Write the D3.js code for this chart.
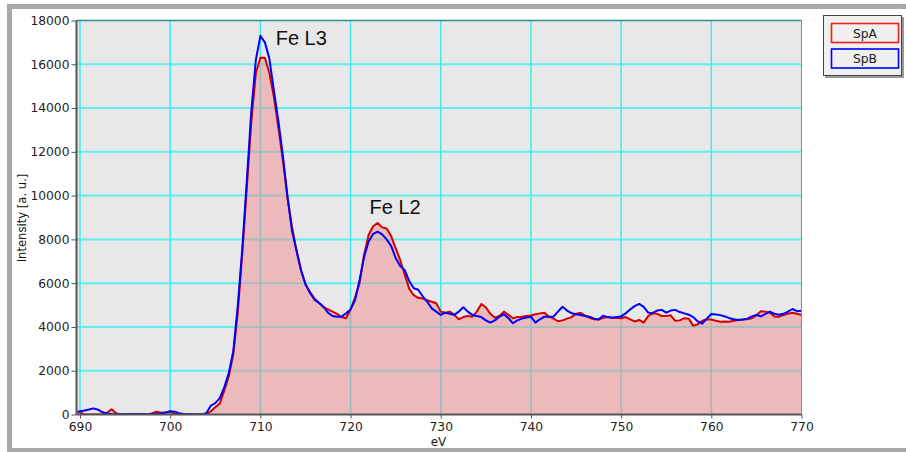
<!DOCTYPE html>
<html>
<head>
<meta charset="utf-8">
<script src="https://cdn.jsdelivr.net/npm/d3@7"></script>
<style>
  html, body { margin: 0; padding: 0; background: #ffffff; }
  svg { display: block; }
</style>
</head>
<body>
<svg id="chart" width="906" height="452"></svg>
<script>
// Fe L-edge EELS spectra, intensity vs. energy loss (eV)
const energyStart = 689.5;
const energyStep = 0.5;

const spA = [
  130, 100, 0, 0, 0, 0, 0, 80, 240, 60,
  0, 0, 20, 20, 20, 10, 0, 60, 130, 80,
  100, 130, 40, 0, 0, 0, 0, 0, 0, 0,
  150, 330, 500, 1100, 1750, 2750, 4700, 7400, 10400, 13400,
  15600, 16300, 16300, 15600, 14500, 13100, 11600, 9900, 8600, 7500,
  6600, 5950, 5600, 5300, 5100, 4900, 4800, 4700, 4600, 4450,
  4400, 4800, 5350, 6000, 7300, 8200, 8600, 8750, 8550, 8500,
  8150, 7600, 7060, 6400, 5750, 5450, 5330, 5300, 5220, 5150,
  5080, 4700, 4650, 4700, 4550, 4350, 4450, 4500, 4470, 4700,
  5050, 4900, 4600, 4420, 4500, 4700, 4550, 4400, 4450, 4470,
  4500, 4520, 4580, 4620, 4650, 4470, 4380, 4260, 4300, 4380,
  4450, 4600, 4640, 4520, 4420, 4350, 4340, 4420, 4450, 4420,
  4410, 4400, 4450, 4350, 4250, 4320, 4200, 4500, 4620, 4600,
  4500, 4500, 4530, 4280, 4300, 4400, 4380, 4050, 4120, 4280,
  4340, 4340, 4280, 4240, 4250, 4240, 4280, 4320, 4340, 4350,
  4400, 4530, 4720, 4700, 4650, 4480, 4470, 4540, 4600, 4650,
  4600, 4550
];

const spB = [
  130, 150, 180, 230, 280, 220, 100, 50, 20, 10,
  10, 10, 20, 20, 10, 10, 10, 20, 40, 60,
  80, 150, 130, 60, 20, 10, 0, 0, 0, 60,
  400, 520, 750, 1250, 1900, 2900, 5000, 7600, 10700, 13900,
  16200, 17300, 17000, 16250, 14800, 13400, 11800, 10000, 8400, 7500,
  6600, 5950, 5550, 5250, 5100, 4925, 4650, 4500, 4470, 4470,
  4620, 4800, 5230, 6150, 7200, 7900, 8250, 8350, 8230, 8000,
  7700, 7150, 6780, 6600, 6100, 5770, 5700, 5400, 5150, 4850,
  4700, 4550, 4650, 4600, 4550, 4700, 4900, 4700, 4550, 4500,
  4450, 4300, 4200, 4300, 4470, 4580, 4400, 4170, 4300, 4380,
  4430, 4470, 4200, 4350, 4470, 4470, 4470, 4700, 4920, 4750,
  4630, 4580, 4550, 4500, 4470, 4380, 4340, 4510, 4450, 4420,
  4450, 4480, 4620, 4800, 4950, 5050, 4920, 4650, 4640, 4750,
  4780, 4650, 4750, 4780, 4680, 4620, 4560, 4450, 4250, 4150,
  4380, 4590, 4570, 4540, 4480, 4400, 4350, 4320, 4340, 4380,
  4480, 4550, 4480, 4600, 4700, 4600, 4560, 4600, 4700, 4820,
  4720, 4740
];

const xTicks = [690, 700, 710, 720, 730, 740, 750, 760, 770];
const yTicks = [0, 2000, 4000, 6000, 8000, 10000, 12000, 14000, 16000, 18000];

const seriesNames = ["SpA", "SpB"];
const seriesColors = ["#d40000", "#0000ff"];
const legendBorders = ["#ff1a1a", "#0000ff"];

// peak annotations, anchored (start of baseline) in data coordinates
const peakLabels = [
  { text: "Fe L3", energy: 711.7, value: 16900 },
  { text: "Fe L2", energy: 722.1, value: 9160 }
];

// ---------------------------------------------------------------
const svg = d3.select("#chart");
const W = 906, H = 452;
const plot = { left: 76.5, right: 801.5, top: 20.5, bottom: 414.5 };

const x = d3.scaleLinear().domain([690, 770]).range([80, 801.5]);
const y = d3.scaleLinear().domain([0, 18000]).range([plot.bottom, plot.top]);

const energy = spA.map((_, i) => energyStart + i * energyStep);
const rowsA = energy.map((e, i) => ({ e, v: spA[i] }));
const rowsB = energy.map((e, i) => ({ e, v: spB[i] }));

// window frame
svg.append("rect").attr("x", 0).attr("y", 0).attr("width", W).attr("height", H).attr("fill", "#ffffff");
svg.append("rect").attr("x", 7).attr("y", 4).attr("width", W - 7).attr("height", 5).attr("fill", "#a9a9a9");
svg.append("rect").attr("x", 7).attr("y", 4).attr("width", 5).attr("height", H - 4).attr("fill", "#a9a9a9");
svg.append("rect").attr("x", 7).attr("y", 448).attr("width", W - 7).attr("height", 4).attr("fill", "#a9a9a9");

// plot background
svg.append("rect")
  .attr("x", plot.left).attr("y", plot.top)
  .attr("width", plot.right - plot.left).attr("height", plot.bottom - plot.top)
  .attr("fill", "#e8e8e8");

svg.append("defs").append("clipPath").attr("id", "plotClip")
  .append("rect")
  .attr("x", plot.left + 1).attr("y", plot.top)
  .attr("width", plot.right - plot.left - 1).attr("height", plot.bottom - plot.top);

// grid
const grid = svg.append("g");
grid.selectAll("line.h").data(yTicks.filter(d => d > 0 && d < 18000)).join("line")
  .attr("x1", plot.left).attr("x2", plot.right)
  .attr("y1", d => y(d)).attr("y2", d => y(d))
  .attr("stroke", "#5ef0f0").attr("stroke-width", 2);
grid.selectAll("line.v").data(xTicks.filter(d => d < 770)).join("line")
  .attr("x1", d => x(d)).attr("x2", d => x(d))
  .attr("y1", plot.top).attr("y2", plot.bottom)
  .attr("stroke", "#3eeaf0").attr("stroke-width", 1.5);

// spectra
const g = svg.append("g").attr("clip-path", "url(#plotClip)");
const area = d3.area().x(d => x(d.e)).y0(y(0)).y1(d => y(d.v));
const line = d3.line().x(d => x(d.e)).y(d => y(d.v));

g.append("path").datum(rowsA).attr("d", area)
  .attr("fill", "rgb(240,140,140)").attr("fill-opacity", 0.5);
g.append("path").datum(rowsA).attr("d", line)
  .attr("fill", "none").attr("stroke", seriesColors[0]).attr("stroke-width", 2)
  .attr("stroke-linejoin", "round");
g.append("path").datum(rowsB).attr("d", line)
  .attr("fill", "none").attr("stroke", seriesColors[1]).attr("stroke-width", 2)
  .attr("stroke-linejoin", "round");

// frame lines
svg.append("line").attr("x1", plot.left).attr("x2", plot.right)
  .attr("y1", plot.top).attr("y2", plot.top).attr("stroke", "#2f8f8f").attr("stroke-width", 1.5);
svg.append("line").attr("x1", plot.right).attr("x2", plot.right)
  .attr("y1", plot.top).attr("y2", plot.bottom).attr("stroke", "#8a8a8a").attr("stroke-width", 1);

// axes
const fontTick = "'DejaVu Sans', Verdana, sans-serif";
const xAxis = d3.axisBottom(x).tickValues(xTicks).tickSize(4).tickPadding(4).tickFormat(d3.format("d"));
const yAxis = d3.axisLeft(y).tickValues(yTicks).tickSize(5).tickPadding(2).tickFormat(d3.format("d"));

const gx = svg.append("g").attr("transform", `translate(0,${plot.bottom})`).call(xAxis);
gx.select(".domain").attr("d", `M${plot.left},0H${plot.right}`).attr("stroke", "#555").attr("stroke-width", 2);
gx.selectAll(".tick line").attr("stroke", "#555");
gx.selectAll(".tick text").attr("font-family", fontTick).attr("font-size", 12.3).attr("fill", "#222");

const gy = svg.append("g").attr("transform", `translate(${plot.left},0)`).call(yAxis);
gy.select(".domain").attr("d", `M0,${plot.top}V${plot.bottom}`).attr("stroke", "#555").attr("stroke-width", 2);
gy.selectAll(".tick line").attr("stroke", "#555");
gy.selectAll(".tick text").attr("font-family", fontTick).attr("font-size", 12.3).attr("fill", "#222");

// axis titles
svg.append("text").attr("x", 438.5).attr("y", 446)
  .attr("text-anchor", "middle").attr("font-family", fontTick).attr("font-size", 12)
  .attr("fill", "#222").text("eV");
svg.append("text")
  .attr("transform", "translate(25.5,218) rotate(-90)")
  .attr("text-anchor", "middle").attr("font-family", fontTick).attr("font-size", 11.6)
  .attr("fill", "#111").text("Intensity [a. u.]");

// peak labels
svg.selectAll("text.peak").data(peakLabels).join("text")
  .attr("class", "peak")
  .attr("x", d => x(d.energy))
  .attr("y", d => y(d.value))
  .attr("font-family", "'Liberation Sans', Arial, sans-serif")
  .attr("font-size", 20).attr("fill", "#111")
  .text(d => d.text);

// legend
const lg = svg.append("g");
lg.append("rect").attr("x", 825).attr("y", 17).attr("width", 79).attr("height", 61).attr("fill", "#9a9a9a");
lg.append("rect").attr("x", 823.5).attr("y", 15.5).attr("width", 78).attr("height", 60)
  .attr("fill", "#f0f0f0").attr("stroke", "#444").attr("stroke-width", 1);
seriesNames.forEach((name, i) => {
  const top = 23.5 + i * 25.5;
  lg.append("rect").attr("x", 831.5).attr("y", top).attr("width", 67).attr("height", 19)
    .attr("fill", "#f0f0f0").attr("stroke", legendBorders[i]).attr("stroke-width", 1.6);
  lg.append("text").attr("x", 865).attr("y", top + 14)
    .attr("text-anchor", "middle").attr("font-family", fontTick).attr("font-size", 12.3)
    .attr("fill", "#222").text(name);
});
</script>
</body>
</html>
